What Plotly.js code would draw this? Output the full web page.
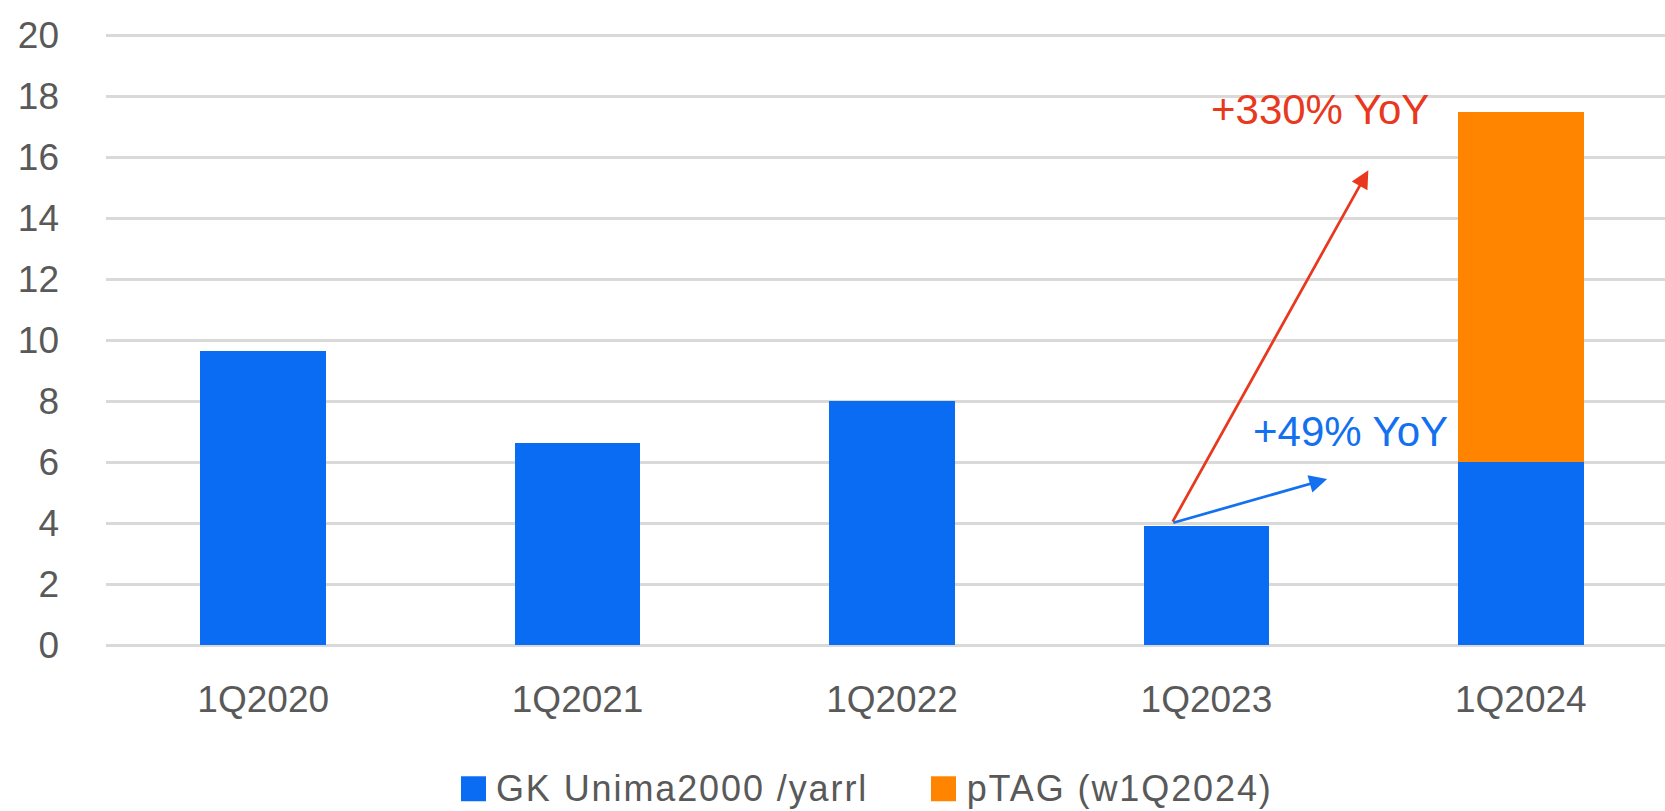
<!DOCTYPE html>
<html>
<head>
<meta charset="utf-8">
<script src="https://cdn.plot.ly/plotly-3.0.1.min.js"></script>
<style>
html,body{margin:0;padding:0;background:#fff;}
#chart{width:1665px;height:811px;}
g.annotation[data-index="4"] text, g.annotation[data-index="5"] text{letter-spacing:1.9px;}
</style>
</head>
<body>
<div id="chart"></div>
<script>
// ---- data ----
const categories = ["1Q2020", "1Q2021", "1Q2022", "1Q2023", "1Q2024"];
const seriesNames = ["GK Unima2000 /yarrl", "pTAG (w1Q2024)"];
const baseValues = [9.65, 6.63, 8.03, 3.93, 6.0];
const ptagValues = [null, null, null, null, 11.5];
const yTicks = [0, 2, 4, 6, 8, 10, 12, 14, 16, 18, 20];
const growthLabels = ["+330% YoY", "+49% YoY"];

// ---- styles ----
const BLUE = "#0A6CF2";
const ORANGE = "#FF8500";
const RED = "#E8381E";
const BLUE_TXT = "#1371EF";
const GRAY = "#595959";
const FONT = "Liberation Sans, Arial, sans-serif";
const TRACK = 1.9; // legend letter spacing (px), applied via CSS

const traces = [
  { type: "bar", x: categories, y: baseValues, name: seriesNames[0],
    marker: { color: BLUE }, width: 0.4, showlegend: false, hoverinfo: "x+y+name" },
  { type: "bar", x: categories, y: ptagValues, name: seriesNames[1],
    marker: { color: ORANGE }, width: 0.4, showlegend: false, hoverinfo: "x+y+name" }
];

const PLOT_TOP = 33.5, PLOT_BOTTOM_PX = 647.1;
function paperY(px) { return (PLOT_BOTTOM_PX - px) / (PLOT_BOTTOM_PX - PLOT_TOP); }
function paperX(px) { return (px - 106) / 1559; }

// arrows from top of 1Q2023 bar
const tailX = 2.89, tailY = baseValues[3] + 0.08;
const LEG_Y = 789;
// CSS tracking widens text around its centre; shift start to compensate
const legShift0 = seriesNames[0].length * TRACK / 2;
const legShift1 = seriesNames[1].length * TRACK / 2;
const annotations = [
  { xref: "x", yref: "y", axref: "x", ayref: "y", x: 3.515, y: 15.58, ax: tailX, ay: tailY,
    text: "", showarrow: true, arrowhead: 2, arrowsize: 1.3, arrowwidth: 2.75, arrowcolor: RED },
  { xref: "x", yref: "y", axref: "x", ayref: "y", x: 3.384, y: 5.46, ax: tailX, ay: tailY,
    text: "", showarrow: true, arrowhead: 2, arrowsize: 1.3, arrowwidth: 2.75, arrowcolor: BLUE_TXT },
  { xref: "x", yref: "y", x: 3.361, y: 17.58, text: growthLabels[0], showarrow: false,
    xanchor: "center", yanchor: "middle", font: { family: FONT, size: 42, color: RED } },
  { xref: "x", yref: "y", x: 3.457, y: 7.03, text: growthLabels[1], showarrow: false,
    xanchor: "center", yanchor: "middle", font: { family: FONT, size: 42, color: BLUE_TXT } },
  // custom legend text
  { xref: "paper", yref: "paper", x: paperX(494 + legShift0), y: paperY(LEG_Y), text: seriesNames[0], showarrow: false,
    xanchor: "left", yanchor: "middle", font: { family: FONT, size: 36, color: GRAY } },
  { xref: "paper", yref: "paper", x: paperX(965 + legShift1), y: paperY(LEG_Y), text: seriesNames[1], showarrow: false,
    xanchor: "left", yanchor: "middle", font: { family: FONT, size: 36, color: GRAY } }
];

const shapes = [
  { type: "rect", xref: "paper", yref: "paper", x0: paperX(461), x1: paperX(486),
    y0: paperY(LEG_Y - 12.5), y1: paperY(LEG_Y + 12.5), fillcolor: BLUE, line: { width: 0 } },
  { type: "rect", xref: "paper", yref: "paper", x0: paperX(931), x1: paperX(956),
    y0: paperY(LEG_Y - 12.5), y1: paperY(LEG_Y + 12.5), fillcolor: ORANGE, line: { width: 0 } }
];

const layout = {
  width: 1665, height: 811,
  margin: { l: 106, r: 0, t: PLOT_TOP, b: 811 - PLOT_BOTTOM_PX, autoexpand: false },
  paper_bgcolor: "#ffffff", plot_bgcolor: "#ffffff",
  barmode: "stack",
  showlegend: false,
  font: { family: FONT, color: GRAY },
  xaxis: {
    type: "category", range: [-0.5, 4.4586], showgrid: false, zeroline: false, showline: false,
    ticks: "", tickfont: { family: FONT, size: 37, color: GRAY }, ticklabelstandoff: 27, fixedrange: true
  },
  yaxis: {
    range: [-0.05, 20.05], tickvals: yTicks, showgrid: true, gridcolor: "#D9D9D9", gridwidth: 2.5,
    zeroline: false, showline: false, ticks: "", tickfont: { family: FONT, size: 37, color: GRAY },
    ticklabelstandoff: 46, fixedrange: true
  },
  annotations: annotations,
  shapes: shapes
};

Plotly.newPlot("chart", traces, layout, { displayModeBar: false, staticPlot: true });
</script>
</body>
</html>
